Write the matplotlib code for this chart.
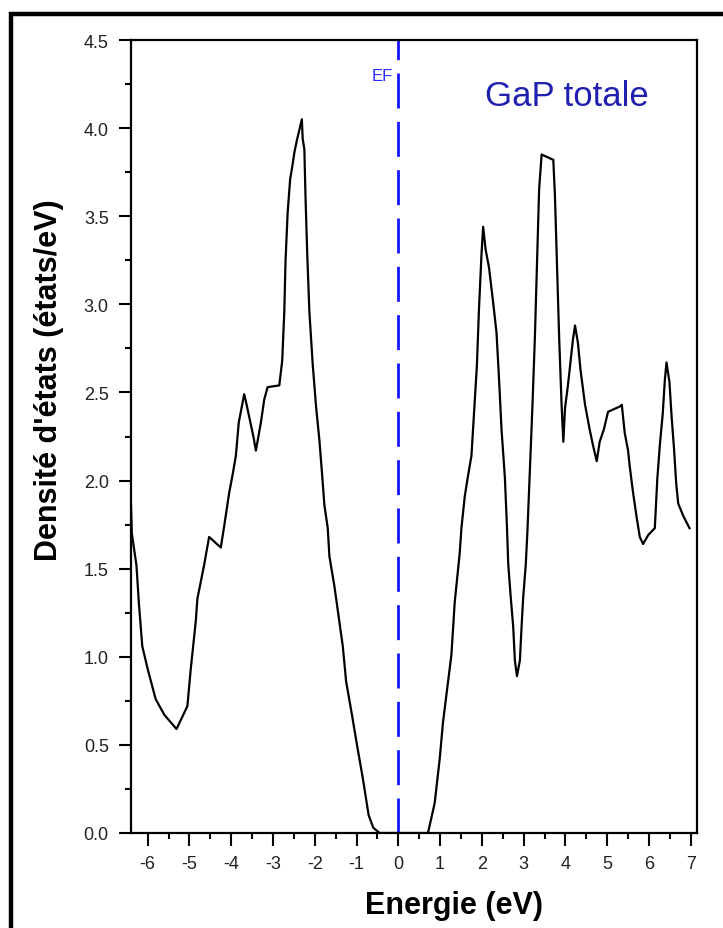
import matplotlib
matplotlib.use('Agg')
import matplotlib.pyplot as plt
from matplotlib.patches import Rectangle
from matplotlib.ticker import MultipleLocator

# total density of states of GaP
energy = [-6.40, -6.38, -6.27, -6.21, -6.13, -6.00, -5.81, -5.60, -5.31, -5.05,
          -4.97, -4.85, -4.81, -4.65, -4.53, -4.25, -4.17, -4.05, -3.97, -3.89,
          -3.82, -3.69, -3.65, -3.47, -3.41, -3.29, -3.21, -3.13, -2.85, -2.78,
          -2.73, -2.70, -2.65, -2.59, -2.54, -2.49, -2.43, -2.37, -2.31, -2.29,
          -2.25, -2.22, -2.18, -2.13, -2.05, -1.97, -1.89, -1.83, -1.77, -1.69,
          -1.65, -1.53, -1.43, -1.33, -1.25, -1.11, -0.99, -0.85, -0.71, -0.60,
          -0.45, 0.71, 0.87, 0.99, 1.07, 1.19, 1.27, 1.35, 1.47, 1.51,
          1.59, 1.67, 1.75, 1.80, 1.88, 1.93, 1.99, 2.03, 2.09, 2.17,
          2.27, 2.35, 2.41, 2.47, 2.55, 2.60, 2.63, 2.69, 2.75, 2.79,
          2.84, 2.91, 2.95, 2.99, 3.05, 3.09, 3.14, 3.21, 3.27, 3.32,
          3.37, 3.43, 3.71, 3.75, 3.80, 3.85, 3.91, 3.95, 3.99, 4.06,
          4.12, 4.18, 4.23, 4.30, 4.36, 4.47, 4.58, 4.66, 4.75, 4.82,
          4.92, 5.02, 5.30, 5.35, 5.42, 5.50, 5.54, 5.62, 5.70, 5.78,
          5.86, 5.98, 6.14, 6.20, 6.26, 6.33, 6.38, 6.42, 6.49, 6.54,
          6.60, 6.65, 6.70, 6.82, 6.97]
dos = [1.86, 1.70, 1.52, 1.30, 1.06, 0.93, 0.76, 0.67, 0.59, 0.72,
       0.93, 1.20, 1.33, 1.52, 1.68, 1.62, 1.74, 1.93, 2.03, 2.14,
       2.33, 2.49, 2.45, 2.25, 2.17, 2.33, 2.46, 2.53, 2.54, 2.68,
       2.96, 3.25, 3.52, 3.71, 3.78, 3.86, 3.93, 3.99, 4.05, 3.94,
       3.88, 3.59, 3.28, 2.96, 2.66, 2.42, 2.23, 2.05, 1.86, 1.73,
       1.57, 1.40, 1.23, 1.06, 0.86, 0.67, 0.50, 0.31, 0.10, 0.03,
       0.00, 0.00, 0.17, 0.42, 0.63, 0.86, 1.01, 1.31, 1.59, 1.73,
       1.91, 2.03, 2.14, 2.34, 2.65, 2.97, 3.28, 3.44, 3.31, 3.21,
       3.01, 2.84, 2.58, 2.29, 2.02, 1.74, 1.53, 1.34, 1.17, 0.98,
       0.89, 0.98, 1.17, 1.34, 1.52, 1.71, 2.00, 2.42, 2.82, 3.23,
       3.65, 3.85, 3.82, 3.61, 3.22, 2.81, 2.42, 2.22, 2.41, 2.54,
       2.67, 2.80, 2.88, 2.78, 2.63, 2.43, 2.29, 2.20, 2.11, 2.22,
       2.29, 2.39, 2.42, 2.43, 2.27, 2.17, 2.08, 1.93, 1.80, 1.68,
       1.64, 1.69, 1.73, 2.01, 2.20, 2.38, 2.57, 2.67, 2.56, 2.37,
       2.18, 1.99, 1.87, 1.80, 1.73]

x_ticks = list(range(-6, 8))
y_ticks = [0.0, 0.5, 1.0, 1.5, 2.0, 2.5, 3.0, 3.5, 4.0, 4.5]
fermi = 0.0

plt.rcParams['font.family'] = ['Liberation Sans', 'DejaVu Sans']

fig = plt.figure(figsize=(7.23, 9.29), dpi=100)
ax = fig.add_axes([131 / 723, 1 - 834 / 929, 566 / 723, 793 / 929])

ax.plot(energy, dos, color='black', linewidth=1.6)
ax.plot([fermi, fermi], [0, 4.5], color='#1515ff', linewidth=2.0,
        dashes=(12.6, 4.8), solid_capstyle='butt', dash_capstyle='butt')

ax.set_xlim(-6.40, 7.15)
ax.set_ylim(0, 4.5)
ax.set_xticks(x_ticks)
ax.set_xticklabels([str(v) for v in x_ticks])
ax.set_yticks(y_ticks)
ax.set_yticklabels(['%.1f' % v for v in y_ticks])
ax.xaxis.set_minor_locator(MultipleLocator(0.5))
ax.yaxis.set_minor_locator(MultipleLocator(0.25))
ax.tick_params(which='major', direction='out', length=9, width=1.5,
               labelsize=13, labelcolor='#222222', pad=7)
ax.tick_params(which='minor', direction='out', length=4.5, width=1.5)
for sp in ax.spines.values():
    sp.set_linewidth(1.6)

ax.text(-0.13, 4.30, 'EF', color='#2a2aff', fontsize=12, ha='right', va='center')
ax.text(2.07, 4.13, 'GaP totale', color='#2020b0', fontsize=25, ha='left', va='baseline')

fig.text(454 / 723, 1 - 906 / 929, 'Energie (eV)', fontsize=22, fontweight='bold',
         ha='center', va='center')
fig.text(49 / 723, 1 - 380 / 929, "Densité d'états (états/eV)", fontsize=22,
         fontweight='bold', rotation=90, ha='center', va='center')

# outer black frame, only top and left edges visible
fig.add_artist(Rectangle((11 / 723, -0.1), 1.2, 1.1 - 14.5 / 929,
                         transform=fig.transFigure, fill=False,
                         edgecolor='black', linewidth=3.2))

fig.savefig('out.png', dpi=100)
